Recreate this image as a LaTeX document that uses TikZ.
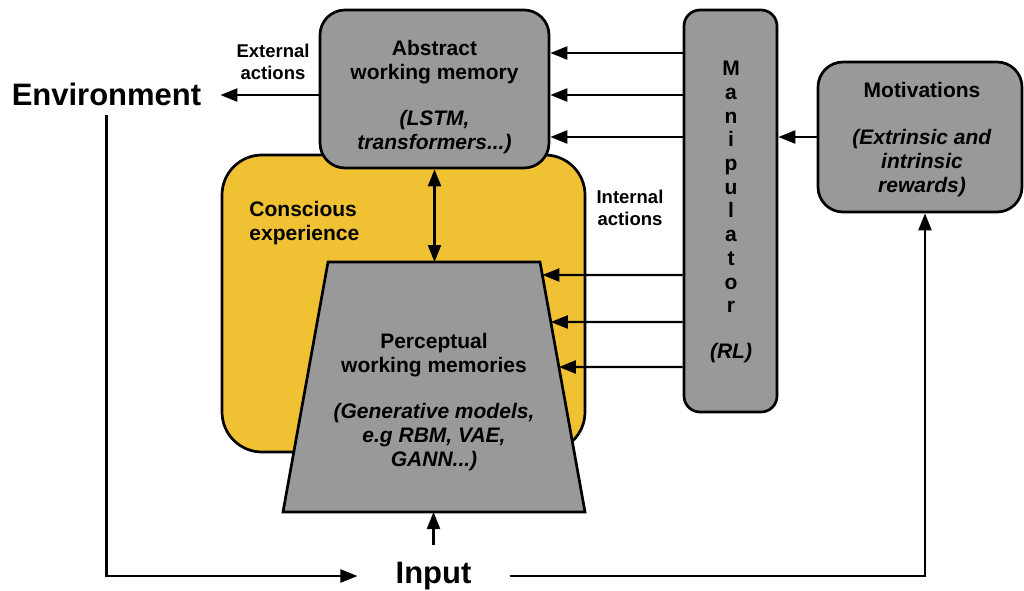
\documentclass[tikz,border=0pt]{standalone}
\usepackage{fontspec}
\setmainfont{Liberation Sans}
\usetikzlibrary{arrows.meta,calc}
\definecolor{boxgray}{HTML}{999999}
\definecolor{consc}{HTML}{F0C233}

\begin{document}
\begin{tikzpicture}[x=1pt,y=-1pt,line width=2.3pt,
  tip/.style={-{Triangle[length=17pt,width=13pt]}},
  twotip/.style={{Triangle[length=17pt,width=13pt]}-{Triangle[length=17pt,width=13pt]}},
  grey/.style={draw, fill=boxgray, line width=2.7pt},
  txt/.style={font=\fontsize{21}{24}\selectfont\bfseries, align=center},
  small/.style={font=\fontsize{18.5}{22}\selectfont\bfseries, align=center},
  big/.style={font=\fontsize{31}{36}\selectfont\bfseries}]

\useasboundingbox (0,0) rectangle (1024,590);

% conscious experience
\node[draw, fill=consc, line width=2.7pt, rounded corners=40pt, minimum width=363pt, minimum height=297pt] (consc) at (403.5,303.5) {};
\node[txt, align=left, anchor=west] (consctxt) at (245,223) {Conscious\\experience};

% boxes
\node[grey, rounded corners=25pt, minimum width=229pt, minimum height=158pt] (abs) at (434.5,89) {};
\node[txt] (abstxt) at (434.5,97) {Abstract\\working memory\\[22pt]\textit{(LSTM,}\\\textit{transformers...)}};

\node[grey, rounded corners=16pt, minimum width=93pt, minimum height=402pt] (manip) at (730.5,211) {};
\node[font=\fontsize{21}{23.7}\selectfont\bfseries, align=center] (maniptxt) at (731,187) {M\\a\\n\\i\\p\\u\\l\\a\\t\\o\\r};
\node[txt] (rl) at (731,353) {\textit{(RL)}};

\node[grey, rounded corners=25pt, minimum width=204pt, minimum height=150pt] (mot) at (920,137) {};
\node[txt] (mottxt) at (922,139.5) {Motivations\\[23pt]\textit{(Extrinsic and}\\\textit{intrinsic}\\\textit{rewards)}};

% perceptual working memories
\draw[grey, line join=miter] (328,262) coordinate (tl) -- (540,262) coordinate (tr)
  -- (585,512) coordinate (br) -- (283,512) coordinate (bl) -- cycle;
\node[txt] (perc) at (434,402) {Perceptual\\working memories\\[22pt]\textit{(Generative models,}\\\textit{e.g RBM, VAE,}\\\textit{GANN...)}};

% outside
\node[big, inner xsep=18pt, inner ysep=8pt] (env) at (106.5,94.5) {Environment};
\node[big, inner xsep=37pt, inner ysep=16pt] (input) at (433.5,576) {Input};
\node[small] (ext) at (273,62) {External\\actions};
\node[small] (int) at (630,208) {Internal\\actions};

% arrows
\draw[tip] (abs.west |- 0,95) -- (env.east |- 0,95);
\draw[twotip] (abs.south) -- (abs.south |- tl);
\draw[tip] (input.north) -- (input.north |- bl);
\draw[tip] (env.south) |- (input.west);
\draw[tip] (input.east) -| ([xshift=5pt]mot.south);
\draw[tip] (mot.west) -- (manip.east |- mot.west);
\foreach \y in {53,95,137}
  \draw[tip] (manip.west |- 0,\y) -- (abs.east |- 0,\y);
\foreach \y in {275,322,367}
  \draw[tip] (manip.west |- 0,\y) -- ($(tr)!{(\y-262)/250}!(br)$);

\end{tikzpicture}
\end{document}
